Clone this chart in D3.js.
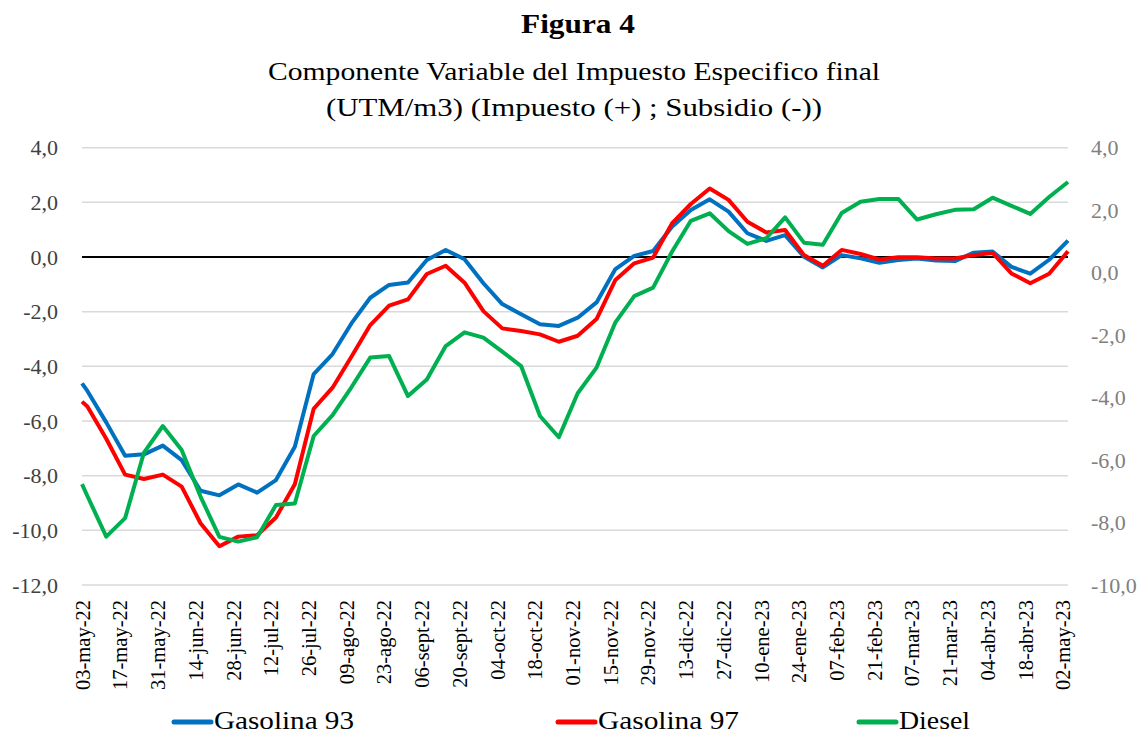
<!DOCTYPE html>
<html>
<head>
<meta charset="utf-8">
<script src="https://cdn.jsdelivr.net/npm/d3@7"></script>
<style>
  body { margin: 0; background: #fff; }
  svg { display: block; font-family: "Liberation Serif", "Times New Roman", serif; }
</style>
</head>
<body>
<div class="chart"></div>
<script>
// fechas de cada dato (primer dato martes, luego jueves)
var fechas = ["2022-05-03","2022-05-05","2022-05-12","2022-05-19","2022-05-26","2022-06-02","2022-06-09",
  "2022-06-16","2022-06-23","2022-06-30","2022-07-07","2022-07-14","2022-07-21","2022-07-28","2022-08-04",
  "2022-08-11","2022-08-18","2022-08-25","2022-09-01","2022-09-08","2022-09-15","2022-09-22","2022-09-29",
  "2022-10-06","2022-10-13","2022-10-20","2022-10-27","2022-11-03","2022-11-10","2022-11-17","2022-11-24",
  "2022-12-01","2022-12-08","2022-12-15","2022-12-22","2022-12-29","2023-01-05","2023-01-12","2023-01-19",
  "2023-01-26","2023-02-02","2023-02-09","2023-02-16","2023-02-23","2023-03-02","2023-03-09","2023-03-16",
  "2023-03-23","2023-03-30","2023-04-06","2023-04-13","2023-04-20","2023-04-27","2023-05-04"];

var gasolina93 = [-4.62,-4.90,-6.05,-7.27,-7.22,-6.90,-7.43,-8.55,-8.72,-8.32,-8.62,-8.16,-6.94,-4.28,
  -3.55,-2.43,-1.49,-1.02,-0.93,-0.11,0.26,-0.08,-0.96,-1.72,-2.09,-2.46,-2.52,-2.22,-1.66,-0.44,
  0.04,0.22,1.11,1.72,2.11,1.66,0.87,0.59,0.80,0.01,-0.38,0.07,-0.05,-0.21,-0.11,-0.05,-0.13,-0.15,
  0.16,0.20,-0.36,-0.61,-0.10,0.60];

var gasolina97 = [-5.29,-5.47,-6.65,-7.96,-8.12,-7.96,-8.40,-9.74,-10.58,-10.23,-10.18,-9.53,-8.31,-5.55,
  -4.78,-3.65,-2.49,-1.78,-1.55,-0.62,-0.32,-0.94,-1.98,-2.61,-2.71,-2.83,-3.10,-2.88,-2.27,-0.84,
  -0.23,-0.02,1.23,1.94,2.51,2.09,1.29,0.90,0.99,0.07,-0.32,0.26,0.11,-0.09,-0.01,-0.01,-0.05,-0.05,
  0.07,0.15,-0.60,-0.96,-0.61,0.21];

// diesel va en el eje derecho
var diesel = [-6.77,-7.15,-8.45,-7.86,-5.76,-4.91,-5.68,-7.17,-8.46,-8.61,-8.47,-7.44,-7.39,-5.23,
  -4.56,-3.67,-2.72,-2.67,-3.95,-3.42,-2.35,-1.91,-2.08,-2.53,-2.99,-4.59,-5.27,-3.86,-3.04,-1.59,
  -0.75,-0.48,0.67,1.66,1.90,1.33,0.92,1.10,1.77,0.96,0.89,1.91,2.27,2.36,2.36,1.70,1.87,2.01,
  2.03,2.40,2.14,1.88,2.42,2.90];

var tickFechas = ["2022-05-03","2022-05-17","2022-05-31","2022-06-14","2022-06-28","2022-07-12","2022-07-26",
  "2022-08-09","2022-08-23","2022-09-06","2022-09-20","2022-10-04","2022-10-18","2022-11-01","2022-11-15",
  "2022-11-29","2022-12-13","2022-12-27","2023-01-10","2023-01-24","2023-02-07","2023-02-21","2023-03-07",
  "2023-03-21","2023-04-04","2023-04-18","2023-05-02"];
var tickLabels = ["03-may-22","17-may-22","31-may-22","14-jun-22","28-jun-22","12-jul-22","26-jul-22",
  "09-ago-22","23-ago-22","06-sept-22","20-sept-22","04-oct-22","18-oct-22","01-nov-22","15-nov-22",
  "29-nov-22","13-dic-22","27-dic-22","10-ene-23","24-ene-23","07-feb-23","21-feb-23","07-mar-23",
  "21-mar-23","04-abr-23","18-abr-23","02-may-23"];

var leftTicks = [4, 2, 0, -2, -4, -6, -8, -10, -12];
var rightTicks = [4, 2, 0, -2, -4, -6, -8, -10];

var w = 1144, h = 735;
var parse = d3.timeParse("%Y-%m-%d");
var fmt = function(v) { return d3.format(".1f")(v).replace(".", ",").replace("−", "-"); };

var svg = d3.select(".chart").append("svg")
  .attr("width", w)
  .attr("height", h);

var x_scale = d3.scaleTime()
  .domain([parse(fechas[0]), parse(fechas[fechas.length - 1])])
  .range([82, 1068]);
var yLeft = d3.scaleLinear().domain([-12, 4]).range([585, 147.7]);
var yRight = d3.scaleLinear().domain([-10, 4]).range([585, 147.7]);

// titulos
svg.append("text")
   .attr("x", 578).attr("y", 33)
   .attr("text-anchor", "middle")
   .attr("font-size", 27).attr("font-weight", "bold")
   .attr("textLength", 114).attr("lengthAdjust", "spacingAndGlyphs")
   .text("Figura 4");
svg.append("text")
   .attr("x", 574).attr("y", 80)
   .attr("text-anchor", "middle")
   .attr("font-size", 25)
   .attr("textLength", 612).attr("lengthAdjust", "spacingAndGlyphs")
   .text("Componente Variable del Impuesto Especifico final");
svg.append("text")
   .attr("x", 574).attr("y", 116)
   .attr("text-anchor", "middle")
   .attr("font-size", 25)
   .attr("textLength", 496).attr("lengthAdjust", "spacingAndGlyphs")
   .text("(UTM/m3) (Impuesto (+) ; Subsidio (-))");

// grilla
var x0 = x_scale.range()[0], x1 = x_scale.range()[1];
svg.append("g").selectAll("line")
   .data(leftTicks.filter(function(d) { return d !== 0; }))
   .enter().append("line")
   .attr("x1", x0).attr("x2", x1)
   .attr("y1", function(d) { return yLeft(d); })
   .attr("y2", function(d) { return yLeft(d); })
   .attr("stroke", "#d9d9d9")
   .attr("stroke-width", 1.5);

svg.append("line")
   .attr("x1", x0).attr("x2", x1)
   .attr("y1", yLeft(0)).attr("y2", yLeft(0))
   .attr("stroke", "#000")
   .attr("stroke-width", 2);

// ejes
var axisLeft = d3.axisLeft(yLeft).tickValues(leftTicks).tickSize(0).tickPadding(0).tickFormat(fmt);
var gl = svg.append("g").attr("transform", "translate(58,0)").call(axisLeft);
gl.select(".domain").remove();
gl.selectAll("text").attr("font-size", 22).attr("fill", "#404040")
  .attr("font-family", "Liberation Serif");

var axisRight = d3.axisRight(yRight).tickValues(rightTicks).tickSize(0).tickPadding(0).tickFormat(fmt);
var gr = svg.append("g").attr("transform", "translate(1091,0)").call(axisRight);
gr.select(".domain").remove();
gr.selectAll("text").attr("font-size", 22).attr("fill", "#808080")
  .attr("font-family", "Liberation Serif");

var axisBot = d3.axisBottom(x_scale)
  .tickValues(tickFechas.map(parse))
  .tickSize(0)
  .tickFormat(function(d, i) { return tickLabels[i]; });
var gb = svg.append("g").attr("transform", "translate(0,600)").call(axisBot);
gb.select(".domain").remove();
gb.selectAll("text")
  .attr("font-size", 20.5)
  .attr("font-family", "Liberation Serif")
  .attr("fill", "#000")
  .attr("text-anchor", "end")
  .attr("transform", "rotate(-90)")
  .attr("x", 0).attr("y", 0)
  .attr("dy", "0.35em");

// series
var series = [
  {name: "Gasolina 93", values: gasolina93, color: "#0070C0", y: yLeft, len: 140},
  {name: "Gasolina 97", values: gasolina97, color: "#FF0000", y: yLeft, len: 141},
  {name: "Diesel", values: diesel, color: "#00B050", y: yRight, len: 71}
];

series.forEach(function(s) {
  var line = d3.line()
    .x(function(d, i) { return x_scale(parse(fechas[i])); })
    .y(function(d) { return s.y(d); });
  svg.append("path")
     .attr("d", line(s.values))
     .attr("fill", "none")
     .attr("stroke", s.color)
     .attr("stroke-width", 4)
     .attr("stroke-linejoin", "round");
});

// leyenda
var legX = [172, 556, 857];
var leg = svg.append("g").selectAll("g").data(series).enter().append("g")
  .attr("transform", function(d, i) { return "translate(" + legX[i] + ",722)"; });
leg.append("line")
   .attr("x1", 2).attr("x2", 39)
   .attr("stroke", function(d) { return d.color; })
   .attr("stroke-width", 5)
   .attr("stroke-linecap", "round");
leg.append("text")
   .attr("x", 42).attr("y", 7)
   .attr("font-size", 26)
   .attr("textLength", function(d) { return d.len; })
   .attr("lengthAdjust", "spacingAndGlyphs")
   .text(function(d) { return d.name; });
</script>
</body>
</html>
